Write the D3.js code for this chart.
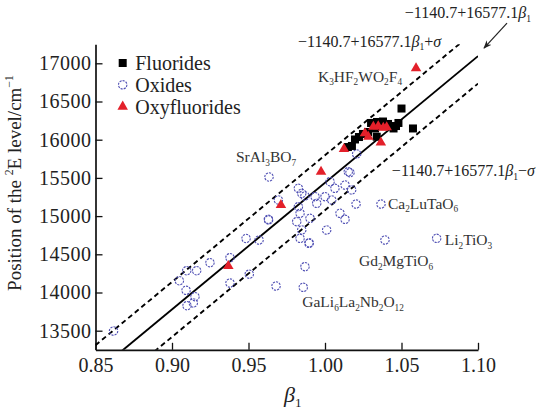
<!DOCTYPE html>
<html>
<head>
<meta charset="utf-8">
<script src="https://cdn.jsdelivr.net/npm/d3@7"></script>
<style>
  body { margin: 0; background: #fff; }
  svg { display: block; font-family: "Liberation Serif", "Times New Roman", serif; }
</style>
</head>
<body>
<svg id="chart" width="537" height="410"></svg>
<script>
// values: [beta1, position of 2E level]
var fluorides = [
  [1.0500, 16408], [1.0480, 16219], [1.0575, 16147], [1.0448, 16147], [1.0379, 16238],
  [1.0340, 16232], [1.0301, 16219], [1.0327, 16147], [1.0281, 16101], [1.0248, 16075],
  [1.0222, 16035], [1.0196, 16003], [1.0176, 15918], [1.0150, 15904], [1.0338, 16039],
  [1.0412, 16206], [1.0464, 16179]
];
var oxides = [
  [0.8618, 13496], [0.9048, 14154], [0.9096, 14285], [0.9161, 14285], [0.9248, 14390],
  [0.9092, 14029], [0.9098, 13827], [0.9139, 13863], [0.9150, 13945], [0.9379, 14456],
  [0.9379, 14124], [0.9505, 14240], [0.9484, 14707], [0.9569, 14687], [0.9634, 15512],
  [0.9631, 14949], [0.9680, 14085], [0.9695, 15211], [0.9826, 15364], [0.9848, 15298],
  [0.9869, 15263], [0.9826, 15123], [0.9837, 15037], [0.9815, 14927], [0.9848, 14818],
  [0.9837, 14709], [0.9895, 14644], [0.9902, 14971], [0.9935, 15254], [0.9946, 15167],
  [1.0000, 15254], [1.0011, 14818], [1.0033, 15450], [1.0044, 15211], [1.0065, 15364],
  [1.0098, 15037], [1.0131, 14958], [1.0131, 15407], [1.0163, 15568], [1.0174, 15342],
  [1.0203, 15158], [1.0366, 15158], [1.0392, 14687], [1.0730, 14709], [0.9869, 14338],
  [0.9858, 14068], [1.0207, 15813], [1.0152, 15581], [0.9630, 14958], [0.9897, 14650]
];
var oxyfluorides = [
  [0.9368, 14347], [0.9712, 15145], [0.9974, 15581], [1.0124, 15878], [1.0261, 16084],
  [1.0283, 16039], [1.0316, 16170], [1.0348, 16175], [1.0381, 16157], [1.0403, 16162],
  [1.0365, 15963], [1.0595, 16935]
];

// fit: E = a + b*beta1, band +/- sigma
var fitA = -1140.7;
var fitB = 16577.1;
var sigma = 360;

var xTicks = [0.85, 0.90, 0.95, 1.00, 1.05, 1.10];
var yTicks = [13500, 14000, 14500, 15000, 15500, 16000, 16500, 17000];

// labelled compounds: name and the point it belongs to
var compoundLabels = [
  { name: "SrAl_3BO_7", beta: 0.9634, e: 15512 },
  { name: "Ca_2LuTaO_6", beta: 1.0366, e: 15158 },
  { name: "Li_2TiO_3", beta: 1.0730, e: 14709 },
  { name: "Gd_2MgTiO_6", beta: 1.0392, e: 14687 },
  { name: "GaLi_6La_2Nb_2O_12", beta: 0.9858, e: 14068 },
  { name: "K_3HF_2WO_2F_4", beta: 1.0595, e: 16935 }
];

var svg = d3.select("#chart");

var x = d3.scaleLinear().domain([0.85, 1.10]).range([95.5, 478]);
var y = d3.scaleLinear().domain([13250, 17250]).range([349.8, 44.2]);

// small markup: _12 subscript, ^-1 superscript, *b* italic
function rich(sel, str, size) {
  var re = /(_[0-9]+|\^[\-−0-9]+|\*[^*]+\*|[^_^*]+)/g;
  var m, shift = 0;
  while ((m = re.exec(str))) {
    var tok = m[0];
    var t = sel.append("tspan");
    if (tok[0] === "_") {
      t.text(tok.slice(1)).attr("font-size", size * 0.6).attr("dy", size * 0.24 - shift);
      shift = size * 0.24;
    } else if (tok[0] === "^") {
      t.text(tok.slice(1)).attr("font-size", size * 0.62).attr("dy", -size * 0.4 - shift);
      shift = -size * 0.4;
    } else if (tok[0] === "*") {
      t.text(tok.slice(1, -1)).attr("font-style", "italic").attr("dy", -shift);
      shift = 0;
    } else {
      t.text(tok).attr("dy", -shift);
      shift = 0;
    }
  }
  return sel;
}

// axes, ticks pointing inward
var xAxis = d3.axisBottom(x).tickValues(xTicks).tickSizeInner(-7).tickSizeOuter(0)
  .tickPadding(8).tickFormat(d3.format(".2f"));
var yAxis = d3.axisLeft(y).tickValues(yTicks).tickSizeInner(-7).tickSizeOuter(0)
  .tickPadding(4).tickFormat(d3.format("d"));

var gx = svg.append("g").attr("transform", "translate(0," + y.range()[0] + ")").call(xAxis);
var gy = svg.append("g").attr("transform", "translate(" + x.range()[0] + ",0)").call(yAxis);

[gx, gy].forEach(function (g) {
  g.attr("font-family", null).attr("font-size", null);
  g.select(".domain").attr("stroke", "#111").attr("stroke-width", 1.7);
  g.selectAll(".tick line").attr("stroke", "#111").attr("stroke-width", 1.3);
  g.selectAll(".tick text").attr("fill", "#222").style("font-size", "20px");
});
gy.selectAll(".tick text").style("letter-spacing", "0.5px");

// fit line and sigma band, clipped to the plot
svg.append("clipPath").attr("id", "plotClip").append("rect")
  .attr("x", x.range()[0]).attr("y", y.range()[1])
  .attr("width", x.range()[1] - x.range()[0]).attr("height", y.range()[0] - y.range()[1]);

var plot = svg.append("g").attr("clip-path", "url(#plotClip)");
var fitLine = d3.line()
  .x(function (d) { return x(d[0]); })
  .y(function (d) { return y(d[1]); });

[0, sigma, -sigma].forEach(function (off) {
  var pts = x.domain().map(function (b) { return [b, fitA + fitB * b + off]; });
  plot.append("path")
    .attr("d", fitLine(pts))
    .attr("fill", "none")
    .attr("stroke", "#000")
    .attr("stroke-width", 1.9)
    .attr("stroke-dasharray", off === 0 ? null : "5,3.5");
});

// points
svg.append("g").selectAll("circle").data(oxides).join("circle")
  .attr("cx", function (d) { return x(d[0]); })
  .attr("cy", function (d) { return y(d[1]); })
  .attr("r", 4.2)
  .attr("fill", "none")
  .attr("stroke", "#5050b4")
  .attr("stroke-width", 1.1)
  .attr("stroke-dasharray", "2.2,1");

var sq = 8;
svg.append("g").selectAll("rect").data(fluorides).join("rect")
  .attr("x", function (d) { return x(d[0]) - sq / 2; })
  .attr("y", function (d) { return y(d[1]) - sq / 2; })
  .attr("width", sq).attr("height", sq)
  .attr("fill", "#000");

var tri = d3.symbol().type(d3.symbolTriangle).size(48);
svg.append("g").selectAll("path").data(oxyfluorides).join("path")
  .attr("transform", function (d) { return "translate(" + x(d[0]) + "," + y(d[1]) + ")"; })
  .attr("d", tri)
  .attr("fill", "#e3202a");

// compound labels, offsets relative to their point
var labelOffsets = {
  "SrAl_3BO_7": [-33, -15, "start"],
  "Ca_2LuTaO_6": [7, 4.5, "start"],
  "Li_2TiO_3": [8, 6.5, "start"],
  "Gd_2MgTiO_6": [-26, 26, "start"],
  "GaLi_6La_2Nb_2O_12": [-1, 19.5, "start"],
  "K_3HF_2WO_2F_4": [-14, 13.4, "end"]
};
compoundLabels.forEach(function (c) {
  var o = labelOffsets[c.name];
  var t = svg.append("text")
    .attr("x", x(c.beta) + o[0]).attr("y", y(c.e) + o[1])
    .attr("text-anchor", o[2])
    .attr("fill", "#333")
    .style("font-size", "15.5px");
  rich(t, c.name, 15.5);
});

// equation labels
var eqSize = 16;
var eqEnd = [x(1.10), y(fitA + fitB * 1.10)];
rich(svg.append("text").attr("x", 531).attr("y", 18).attr("text-anchor", "end")
  .attr("fill", "#222").style("font-size", eqSize + "px"), "−1140.7+16577.1*β*_1", eqSize);
rich(svg.append("text").attr("x", 298).attr("y", 46.5)
  .attr("fill", "#222").style("font-size", eqSize + "px"), "−1140.7+16577.1*β*_1+*σ*", eqSize);
rich(svg.append("text").attr("x", 535).attr("y", 176).attr("text-anchor", "end")
  .attr("fill", "#222").style("font-size", eqSize + "px"), "−1140.7+16577.1*β*_1−*σ*", eqSize);

// arrow to the fitted line end
svg.append("defs").append("marker").attr("id", "arrowHead")
  .attr("viewBox", "0 0 10 10").attr("refX", 9).attr("refY", 5)
  .attr("markerWidth", 7).attr("markerHeight", 7).attr("orient", "auto")
  .append("path").attr("d", "M0,1 L10,5 L0,9 L3,5 Z").attr("fill", "#222");
svg.append("line")
  .attr("x1", eqEnd[0] + 29).attr("y1", eqEnd[1] - 33)
  .attr("x2", eqEnd[0] + 6).attr("y2", eqEnd[1] - 8)
  .attr("stroke", "#222").attr("stroke-width", 1.2)
  .attr("marker-end", "url(#arrowHead)");

// legend
var legend = svg.append("g").attr("transform", "translate(122.7,63)");
var legendRows = ["Fluorides", "Oxides", "Oxyfluorides"];
legendRows.forEach(function (name, i) {
  var g = legend.append("g").attr("transform", "translate(0," + (i * 21.8) + ")");
  if (i === 0) {
    g.append("rect").attr("x", -sq / 2).attr("y", -sq / 2).attr("width", sq).attr("height", sq).attr("fill", "#000");
  } else if (i === 1) {
    g.append("circle").attr("r", 4.2).attr("fill", "none").attr("stroke", "#5050b4")
      .attr("stroke-width", 1.1).attr("stroke-dasharray", "2.2,1");
  } else {
    g.append("path").attr("d", tri).attr("fill", "#e3202a");
  }
  g.append("text").attr("x", 12.5).attr("y", 7).attr("fill", "#222")
    .style("font-size", "20px").text(name);
});

// axis titles
rich(svg.append("text")
  .attr("transform", "translate(21,183) rotate(-90)")
  .attr("text-anchor", "middle").attr("fill", "#222")
  .style("font-size", "19px"), "Position of the ^2E level/cm^−1", 19);

rich(svg.append("text").attr("x", 284).attr("y", 402)
  .attr("fill", "#222").style("font-size", "22px"), "*β*_1", 22);
</script>
</body>
</html>
